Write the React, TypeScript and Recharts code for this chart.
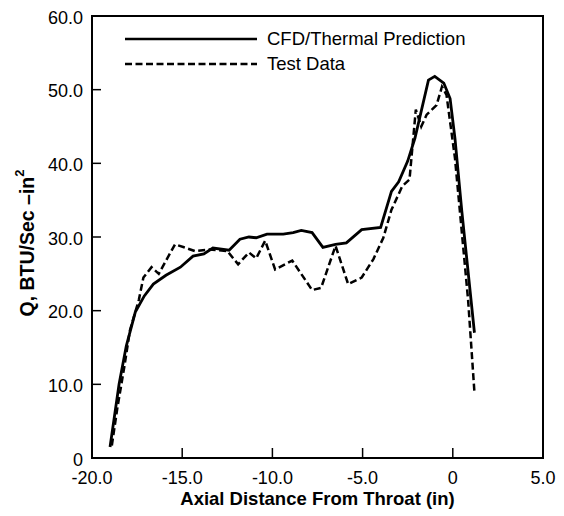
import React from 'react';
import { LineChart, Line, XAxis, YAxis, Legend, ReferenceArea } from 'recharts';

// CFD/Thermal prediction (solid)
const cfdX = [-19.0, -18.5, -18.1, -17.6, -17.1, -16.6, -15.9, -15.1, -14.4, -13.8, -13.3, -12.4, -11.8, -11.3, -10.9, -10.3, -9.4, -8.85, -8.4, -7.8, -7.2, -6.5, -5.9, -5.05, -4.0, -3.4, -3.0, -2.5, -2.1, -1.35, -1.0, -0.5, -0.15, 0.12, 0.5, 1.2];
const cfdQ = [1.5, 10.0, 15.2, 19.8, 22.0, 23.6, 24.8, 25.9, 27.4, 27.7, 28.5, 28.2, 29.7, 30.0, 29.9, 30.4, 30.4, 30.6, 30.9, 30.6, 28.6, 29.0, 29.2, 31.0, 31.3, 36.2, 37.5, 40.3, 43.4, 51.3, 51.8, 50.9, 48.8, 43.4, 33.5, 17.0];

// Test data (dashed)
const testX = [-18.9, -18.6, -18.2, -17.9, -17.4, -17.15, -16.7, -16.3, -15.4, -14.9, -14.3, -13.5, -12.5, -11.9, -11.3, -10.9, -10.4, -9.85, -8.9, -7.8, -7.3, -6.5, -5.8, -5.05, -4.4, -3.85, -3.4, -2.8, -2.4, -2.05, -1.75, -1.45, -0.9, -0.6, -0.35, 0.12, 0.85, 1.2];
const testQ = [1.7, 6.7, 12.5, 17.3, 21.5, 24.5, 25.9, 25.0, 29.0, 28.6, 28.1, 28.3, 28.1, 26.3, 27.9, 27.1, 29.5, 25.6, 26.8, 22.8, 23.1, 28.8, 23.6, 24.5, 27.0, 29.9, 33.7, 36.9, 37.8, 47.3, 45.0, 46.6, 47.9, 50.4, 49.3, 40.7, 21.4, 8.9];

const xTicks = [-20, -15, -10, -5, 0, 5];
const yTicks = [0, 10, 20, 30, 40, 50, 60];

const cfdData = cfdX.map((x, i) => ({ x, q: cfdQ[i] }));
const testData = testX.map((x, i) => ({ x, q: testQ[i] }));

const FONT = '"Liberation Sans", Arial, Helvetica, sans-serif';
const fmt = (v: number) => (v === 0 ? '0' : v.toFixed(1));

const YTick = (props: any) => {
  const { x, y, payload } = props;
  return (
    <text x={x} y={y + 1.5} textAnchor="end" dominantBaseline="central" fontFamily={FONT} fontSize={18} fill="#000">
      {fmt(payload.value)}
    </text>
  );
};

const YLabel = (props: any) => {
  const vb = props.viewBox || { x: 0, y: 0, height: 0 };
  const cx = vb.x + 27;
  const cy = vb.y + vb.height / 2 + 6;
  return (
    <text
      x={cx}
      y={cy}
      transform={`rotate(-90 ${cx} ${cy})`}
      textAnchor="middle"
      dominantBaseline="central"
      fontFamily={FONT}
      fontWeight="bold"
      fontSize={19.5}
      fill="#000"
    >
      Q, BTU/Sec –in<tspan dy={-8} fontSize={13}>2</tspan>
    </text>
  );
};

const renderLegend = (props: any) => {
  const items = props.payload || [];
  return (
    <div style={{ fontFamily: FONT, fontSize: 18.5, whiteSpace: 'nowrap' }}>
      {items.map((it: any) => (
        <div key={it.value} style={{ display: 'flex', alignItems: 'center', height: 25 }}>
          <svg width={132} height={10} style={{ marginRight: 10 }}>
            <line
              x1={0}
              y1={5}
              x2={132}
              y2={5}
              stroke="#000"
              strokeWidth={2.5}
              strokeDasharray={it.payload && it.payload.strokeDasharray}
            />
          </svg>
          <span>{it.value}</span>
        </div>
      ))}
    </div>
  );
};

export default function App() {
  return (
    <div style={{ position: 'absolute', left: 0, top: 0, background: '#fff' }}>
      <LineChart width={564} height={516} margin={{ top: 16, right: 21, left: 0, bottom: 0 }}>
        <XAxis
          type="number"
          dataKey="x"
          domain={[-20, 5]}
          ticks={xTicks}
          tickFormatter={fmt}
          height={58}
          axisLine={{ stroke: '#000', strokeWidth: 2 }}
          tickLine={{ stroke: '#000', strokeWidth: 1.5 }}
          tickSize={-10}
          tickMargin={23}
          tick={{ fill: '#000', fontSize: 18, fontFamily: FONT }}
          label={{
            value: 'Axial Distance From Throat (in)',
            position: 'insideBottom',
            offset: 11,
            fill: '#000',
            fontSize: 18.5,
            fontWeight: 'bold',
            fontFamily: FONT,
          }}
        />
        <YAxis
          type="number"
          dataKey="q"
          domain={[0, 60]}
          ticks={yTicks}
          width={92}
          axisLine={{ stroke: '#000', strokeWidth: 2 }}
          tickLine={{ stroke: '#000', strokeWidth: 1.5 }}
          tickSize={-9}
          tickMargin={18}
          tick={<YTick />}
          label={<YLabel />}
        />
        <ReferenceArea x1={-20} x2={5} y1={0} y2={60} fill="none" stroke="#000" strokeWidth={2} />
        <Legend
          layout="horizontal"
          verticalAlign="middle"
          align="center"
          content={renderLegend}
          wrapperStyle={{ position: 'absolute', left: 125, top: 26, width: 360 }}
        />
        <Line
          data={cfdData}
          dataKey="q"
          name="CFD/Thermal Prediction"
          stroke="#000"
          strokeWidth={2.8}
          dot={false}
          type="linear"
          isAnimationActive={false}
        />
        <Line
          data={testData}
          dataKey="q"
          name="Test Data"
          stroke="#000"
          strokeWidth={2.5}
          strokeDasharray="7 3.5"
          dot={false}
          type="linear"
          isAnimationActive={false}
        />
      </LineChart>
    </div>
  );
}
